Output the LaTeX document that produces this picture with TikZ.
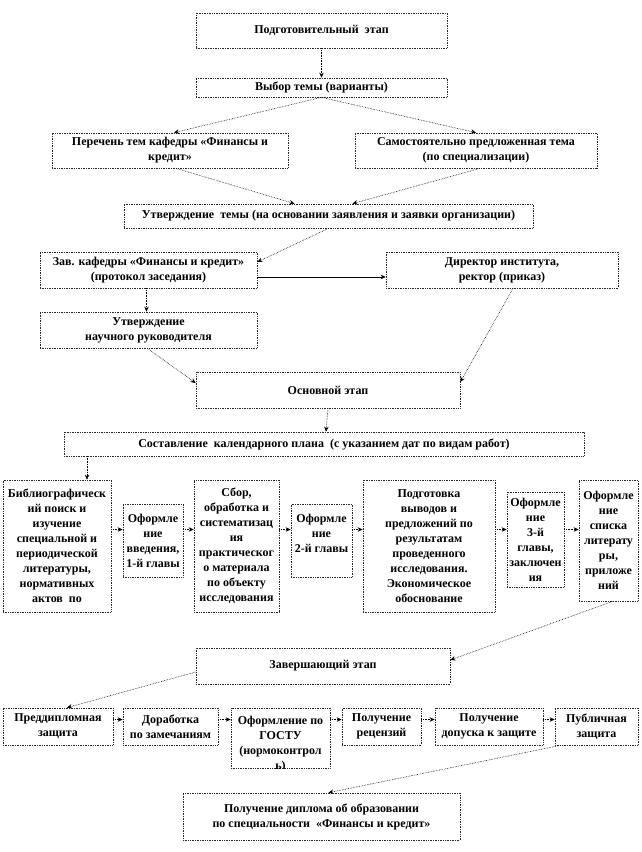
\documentclass[tikz,border=0pt]{standalone}
\usepackage{fontspec}
\setmainfont{Liberation Serif}
\usetikzlibrary{arrows.meta}
\tikzset{
  box/.style={draw=black!85, densely dotted, line width=0.7pt, inner sep=0pt, align=center,
    font=\bfseries\fontsize{12}{15}\selectfont},
  conn/.style={densely dotted, line width=0.6pt, -{Stealth[length=5pt,width=4.5pt]}},
  sconn/.style={line width=0.6pt, -{Stealth[length=5pt,width=4.5pt]}}
}
\newcommand{\bbox}[6]{\node[box,minimum width={(#3-#2)*1pt},minimum height={(#5-#4)*1pt}] (#1) at ({(#2+#3)/2},{(#4+#5)/2}) {#6};}
\begin{document}
\begin{tikzpicture}[x=1pt,y=-1pt]
\useasboundingbox (0,0) rectangle (642,852);
\bbox{podg}{196}{447}{13}{48}{Подготовительный\ \ этап}
\bbox{vybor}{196}{447}{78}{97}{Выбор темы (варианты)}
\bbox{perech}{52}{288}{133}{168}{Перечень тем кафедры «Финансы и\\кредит»}
\bbox{samost}{355}{597}{133}{168}{Самостоятельно предложенная тема\\(по специализации)}
\bbox{utv}{124}{533}{204}{228}{Утверждение\ \ темы (на основании заявления и заявки организации)}
\bbox{zav}{40}{257}{252}{288}{Зав. кафедры «Финансы и кредит»\\(протокол заседания)}
\bbox{dir}{386}{618}{252}{288}{Директор института,\\ректор (приказ)}
\bbox{nauch}{40}{257}{312}{348}{Утверждение\\научного руководителя}
\bbox{osn}{196}{460}{372}{408}{Основной этап}
\bbox{sost}{64}{584}{432}{456}{Составление\ \ календарного плана\ \ (с указанием дат по видам работ)}
\bbox{b1}{3}{111}{480}{612}{Библиографическ\\ий поиск и\\изучение\\специальной и\\периодической\\литературы,\\нормативных\\актов\ \ по}
\bbox{b2}{123}{183}{504}{577}{Оформле\\ние\\введения,\\1-й главы}
\bbox{b3}{194}{279}{480}{612}{Сбор,\\обработка и\\систематизац\\ия\\практическог\\о материала\\по объекту\\исследования}
\bbox{b4}{291}{352}{504}{577}{Оформле\\ние\\2-й главы\\\mbox{}}
\bbox{b5}{363}{495}{480}{612}{Подготовка\\выводов и\\предложений по\\результатам\\проведенного\\исследования.\\Экономическое\\обоснование}
\bbox{b6}{507}{564}{492}{587}{Оформле\\ние\\3-й\\главы,\\заключен\\ия}
\bbox{b7}{579}{638}{480}{601}{Оформле\\ние\\списка\\литерату\\ры,\\приложе\\ний}
\bbox{zaver}{196}{450}{648}{684}{Завершающий этап}
\bbox{c1}{3}{113}{708}{745}{Преддипломная\\защита}
\bbox{c2}{123}{218}{708}{745}{Доработка\\по замечаниям}
\bbox{c3}{231}{330}{708}{768}{}
\begin{scope}
\clip (c3.north west) rectangle (c3.south east);
\node[box,draw=none,anchor=north] (c3t) at ([yshift=-8pt]c3.north) {Оформление по\\ГОСТУ\\(нормоконтрол\\ь)};
\end{scope}
\bbox{c4}{342}{421}{708}{745}{Получение\\рецензий}
\bbox{c5}{435}{543}{708}{745}{Получение\\допуска к защите}
\bbox{c6}{555}{638}{708}{745}{Публичная\\защита}
\bbox{dipl}{183}{460}{793}{840}{Получение диплома об образовании\\по специальности\ \ «Финансы и кредит»}
% connectors
\draw[conn] (podg.south) -- (vybor.north);
\draw[conn] (vybor.south) -- ([xshift=4pt]perech.north);
\draw[conn] (vybor.south) -- (samost.north);
\draw[conn] ([xshift=6pt]perech.south) -- ([xshift=-34pt]utv.north);
\draw[conn] ([xshift=4pt]samost.south) -- ([xshift=24pt]utv.north);
\draw[conn] (utv.south) -- ([yshift=8pt]zav.east);
\draw[sconn] ([yshift=-7pt]zav.east) -- ([yshift=-7pt]dir.west);
\draw[conn] ([xshift=-2pt]zav.south) -- ([xshift=-2pt]nauch.north);
\draw[conn] ([xshift=-1pt]nauch.south) -- ([yshift=7pt]osn.west);
\draw[conn] ([xshift=11pt]dir.south) -- ([yshift=8pt]osn.east);
\draw[conn] (osn.south) -- ([xshift=2pt]sost.north);
\coordinate (s1) at (87,456);
\draw[conn] (s1) -- (s1 |- b1.north);
\coordinate (ry) at ([yshift=11pt]b2.west);
\draw[conn] (b1.east |- ry) -- (b2.west |- ry);
\draw[conn] (b2.east |- ry) -- (b3.west |- ry);
\draw[conn] (b3.east |- ry) -- (b4.west |- ry);
\draw[conn] (b4.east |- ry) -- (b5.west |- ry);
\draw[conn] (b5.east |- ry) -- (b6.west |- ry);
\draw[conn] (b6.east |- ry) -- (b7.west |- ry);
\draw[conn] ([xshift=4pt]b7.south) -- ([yshift=6pt]zaver.east);
\draw[conn] ([yshift=-6pt]zaver.west) -- ([xshift=9pt]c1.north);
\coordinate (r1) at ([yshift=7pt]c2.east);
\draw[conn] (c1.east |- r1) -- (c2.west |- r1);
\draw[conn] (r1) -- (c3.west |- r1);
\draw[conn] (c3.east |- r1) -- (c4.west |- r1);
\draw[conn] (c4.east |- r1) -- (c5.west |- r1);
\draw[conn] (c5.east |- r1) -- (c6.west |- r1);
\draw[conn] ([xshift=-36pt]c6.south) -- ([xshift=7pt]dipl.north);
\end{tikzpicture}
\end{document}
